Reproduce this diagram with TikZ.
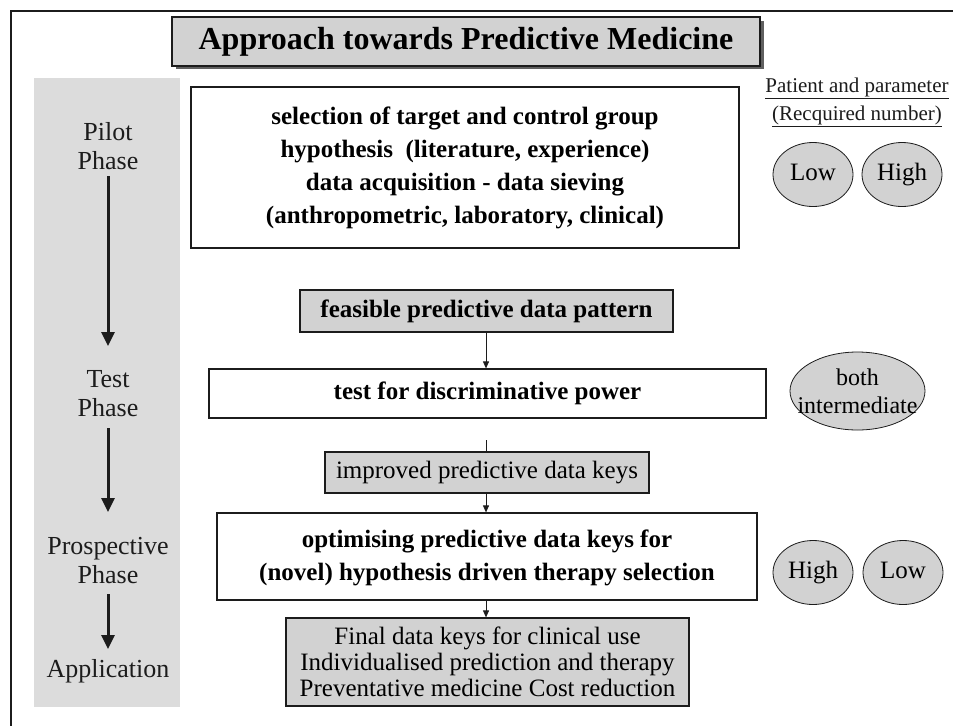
\documentclass[tikz,border=0pt]{standalone}
\usepackage{fontspec}
\setmainfont{Liberation Serif}
\usetikzlibrary{shapes.geometric,arrows.meta}
\definecolor{boxgray}{HTML}{D2D2D2}
\definecolor{colgray}{HTML}{DCDCDC}
\definecolor{ink}{HTML}{1C1C1C}
\begin{document}
\begin{tikzpicture}[x=1pt,y=-1pt,
  frame/.style={draw=ink,line width=1.6pt},
  whitebox/.style={draw=ink,line width=1.2pt,fill=white,inner sep=0pt,align=center,font=\bfseries\fontsize{25}{33}\selectfont},
  graybox/.style={draw=ink,line width=1.2pt,fill=boxgray,inner sep=0pt,align=center,font=\fontsize{25}{26}\selectfont},
  phase/.style={align=center,text=ink,font=\fontsize{26}{29}\selectfont},
  phasearrow/.style={line width=3pt,draw=ink,-{Triangle[length=14pt,width=13pt]}},
  conn/.style={draw=ink,line width=0.9pt,-{Triangle[length=7pt,width=6pt]}},
  oval/.style={ellipse,draw=ink,line width=0.8pt,fill=boxgray,inner sep=0pt,font=\fontsize{25}{27}\selectfont},
  level/.style={oval,minimum width=80pt,minimum height=64pt,text height=17pt,text depth=5pt}
]
\useasboundingbox (0,0) rectangle (953,726);
\fill[white] (0,0) rectangle (953,726);
% page frame (top and left edges)
\draw[frame] (953,11) -- (11,11) -- (11,726);

% title with a drop shadow
\fill[ink!70] (176,21) rectangle (764,69);
\node[draw=ink,line width=1.4pt,fill=boxgray,minimum width=588pt,minimum height=49pt,inner sep=0pt,
      font=\bfseries\fontsize{32}{34}\selectfont] (title) at (466,41.5) {Approach towards Predictive Medicine};

% phase column
\node[fill=colgray,minimum width=146pt,minimum height=629pt,inner sep=0pt] (col) at (107,392.5) {};
\node[phase] (pilot) at (108,146) {Pilot\\Phase};
\node[phase] (test) at (108,394) {Test\\Phase};
\node[phase] (prosp) at (108,561) {Prospective\\Phase};
\node[phase] (appl) at (108,671) {Application};
\draw[phasearrow] (108,176) -- (108,346);
\draw[phasearrow] (108,428) -- (108,512);
\draw[phasearrow] (108,594) -- (108,649);

% main flow
\node[whitebox,minimum width=548pt,minimum height=161pt] (sel) at (465,167.5)
  {selection of target and control group\\hypothesis\ \ (literature, experience)\\data acquisition - data sieving\\(anthropometric, laboratory, clinical)};
\node[graybox,font=\bfseries\fontsize{25}{26}\selectfont,minimum width=373pt,minimum height=42pt] (feas) at (486.5,311)
  {feasible predictive data pattern};
\node[whitebox,minimum width=557pt,minimum height=49pt] (disc) at (487.5,393.5)
  {test for discriminative power};
\node[graybox,minimum width=324pt,minimum height=41pt] (impr) at (487,472.5)
  {improved predictive data keys};
\node[whitebox,minimum width=540pt,minimum height=87pt] (opt) at (487,556.5)
  {\rule{0pt}{20pt}optimising predictive data keys for\\(novel) hypothesis driven therapy selection};
\node[graybox,minimum width=403pt,minimum height=88pt] (final) at (487.5,662)
  {Final data keys for clinical use\\Individualised prediction and therapy\\Preventative medicine Cost reduction};

\coordinate (ax) at (486,0);
\coordinate (stub) at (486,440);
\draw[conn] (ax |- feas.south) -- (ax |- disc.north);
\draw[draw=ink,line width=0.9pt] (stub) -- (ax |- impr.north);
\draw[conn] (ax |- impr.south) -- (ax |- opt.north);
\draw[conn] (ax |- opt.south) -- (ax |- final.north);

% required numbers
\node[font=\fontsize{21}{22}\selectfont,text=ink] (hdr1) at (857,88) {\underline{Patient and parameter}};
\node[font=\fontsize{21}{22}\selectfont,text=ink] (hdr2) at (857,116) {\underline{(Recquired number)}};
\node[level] (low1) at (813,174.5) {Low};
\node[level] (high1) at (902,174.5) {High};
\node[oval,align=center,minimum width=135pt,minimum height=78pt,inner xsep=-14pt,font=\fontsize{24}{28}\selectfont] (both) at (857.5,391) {both\\intermediate};
\node[level] (high2) at (813,572.5) {High};
\node[level] (low2) at (903,572.5) {Low};
\end{tikzpicture}
\end{document}
